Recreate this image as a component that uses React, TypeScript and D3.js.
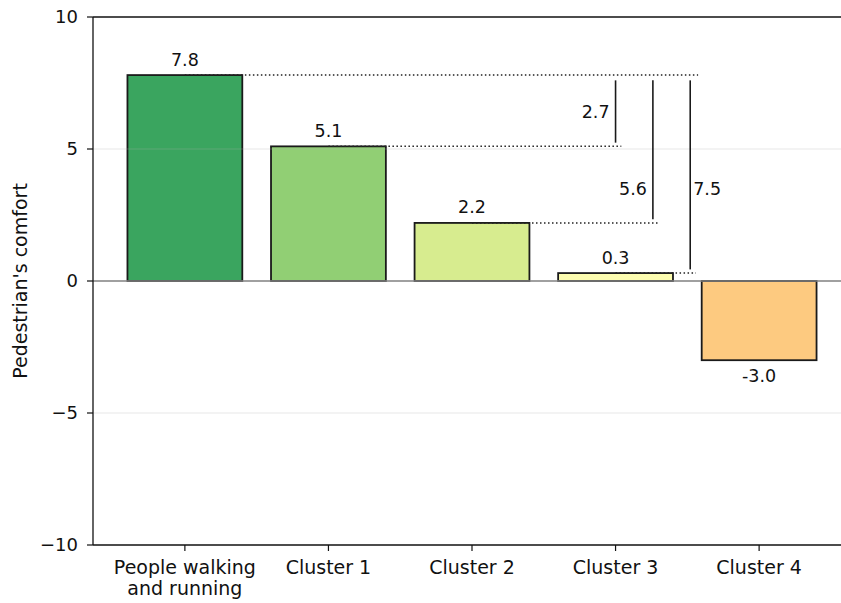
import React from "react";
import * as d3 from "d3";

const categories = ["People walking\nand running", "Cluster 1", "Cluster 2", "Cluster 3", "Cluster 4"];
const values = [7.8, 5.1, 2.2, 0.3, -3.0];
const colors = ["#3aa55f", "#91cf74", "#d7ec8f", "#fdfdb0", "#fdca80"];
const yTicks = [-10, -5, 0, 5, 10];
// differences from the reference (first bar) to clusters 1..3
const diffTargets = [1, 2, 3];
const diffX = [3.0, 3.26, 3.52];
const diffLabelY = [6.4, 3.5, 3.5];
const diffLabelSide = ["left", "left", "right"];

const W = 841;
const H = 603;
const FONT = "DejaVu Sans, sans-serif";

export default function App() {
  const x = d3.scaleLinear().domain([-0.64, 4.64]).range([93, 851]);
  const y = d3.scaleLinear().domain([-10, 10]).range([545, 17]);
  const bw = x(0.8) - x(0);
  const fmt = (v: number) => d3.format(".1f")(v).replace("\u2212", "-");

  const ref = values[0];

  return (
    <svg width={W} height={H} style={{ position: "absolute", left: 0, top: 0, background: "#fff" }} fontFamily={FONT}>
      {/* bars */}
      {values.map((v, i) => (
        <rect
          key={"b" + i}
          x={x(i) - bw / 2}
          y={y(Math.max(v, 0))}
          width={bw}
          height={Math.abs(y(v) - y(0))}
          fill={colors[i]}
          stroke="#1a1a1a"
          strokeWidth={1.8}
        />
      ))}
      {/* grid */}
      {[-5, 5].map((t) => (
        <line key={"g" + t} x1={x(-0.64)} x2={W} y1={y(t)} y2={y(t)} stroke="#b0b0b0" strokeOpacity={0.3} strokeWidth={1.2} />
      ))}
      <line x1={x(-0.64)} x2={W} y1={y(0)} y2={y(0)} stroke="#808080" strokeWidth={1.3} />
      {/* dotted connectors */}
      <line x1={x(0)} x2={x(diffX[2] + 0.055)} y1={y(ref)} y2={y(ref)} stroke="#222" strokeWidth={1.5} strokeDasharray="1.5,2.5" />
      {diffTargets.map((j, k) => (
        <line key={"d" + j} x1={x(j)} x2={x(diffX[k] + 0.04)} y1={y(values[j])} y2={y(values[j])} stroke="#222" strokeWidth={1.5} strokeDasharray="1.5,2.5" />
      ))}
      {/* vertical difference lines */}
      {diffTargets.map((j, k) => {
        const diff = ref - values[j];
        const lx = x(diffX[k]);
        const side = diffLabelSide[k];
        return (
          <g key={"v" + j}>
            <line x1={lx} x2={lx} y1={y(ref - 0.2)} y2={y(values[j] + 0.14)} stroke="#1a1a1a" strokeWidth={1.6} />
            <text
              x={side === "left" ? lx - 6 : lx + 3}
              y={y(diffLabelY[k])}
              dy="0.36em"
              textAnchor={side === "left" ? "end" : "start"}
              fontSize={17.5}
              fill="#111"
            >
              {fmt(diff)}
            </text>
          </g>
        );
      })}
      {/* value labels */}
      {values.map((v, i) => (
        <text
          key={"l" + i}
          x={x(i)}
          y={v >= 0 ? y(v) - 9.5 : y(v) + 21.5}
          textAnchor="middle"
          fontSize={17.5}
          fill="#111"
        >
          {fmt(v)}
        </text>
      ))}
      {/* spines */}
      <line x1={x(-0.64)} x2={W} y1={y(10)} y2={y(10)} stroke="#111" strokeWidth={1.3} />
      <line x1={x(-0.64)} x2={W} y1={y(-10)} y2={y(-10)} stroke="#111" strokeWidth={1.3} />
      <line x1={x(-0.64)} x2={x(-0.64)} y1={y(10)} y2={y(-10)} stroke="#111" strokeWidth={1.3} />
      {/* y ticks */}
      {yTicks.map((t) => (
        <g key={"yt" + t}>
          <line x1={x(-0.64) - 6} x2={x(-0.64)} y1={y(t)} y2={y(t)} stroke="#111" strokeWidth={1.2} />
          <text x={x(-0.64) - 15} y={y(t)} dy="0.36em" textAnchor="end" fontSize={18} fill="#111">
            {t < 0 ? "\u2212" + Math.abs(t) : String(t)}
          </text>
        </g>
      ))}
      {/* x ticks */}
      {categories.map((c, i) => (
        <g key={"xt" + i}>
          <line x1={x(i)} x2={x(i)} y1={y(-10)} y2={y(-10) + 6} stroke="#111" strokeWidth={1.2} />
          {c.split("\n").map((ln, k) => (
            <text key={k} x={x(i)} y={y(-10) + 29 + k * 20.5} textAnchor="middle" fontSize={19} fill="#111">
              {ln}
            </text>
          ))}
        </g>
      ))}
      {/* y label */}
      <text transform={`translate(27,${y(0)}) rotate(-90)`} textAnchor="middle" fontSize={19} fill="#111">
        Pedestrian's comfort
      </text>
    </svg>
  );
}
